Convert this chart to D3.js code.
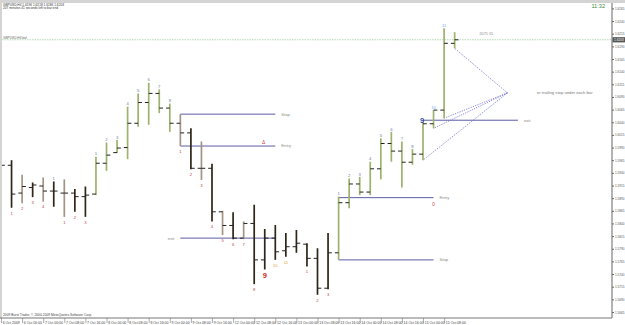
<!DOCTYPE html>
<html><head><meta charset="utf-8">
<script src="https://cdn.jsdelivr.net/npm/d3@7"></script>
<style>body{margin:0;background:#fff}svg{display:block;font-family:Arial,"Liberation Sans",sans-serif}</style>
</head><body><svg id="c" width="625" height="325"></svg>
<script>
// ---- data (GBPUSD H4) ----
const opens  = [1.5946,1.5955,1.5900,1.5911,1.5914,1.5904,1.5900,1.5900,1.5893,1.5898,1.5959,1.5980,1.5990,1.6038,1.6079,1.6097,1.6068,1.6038,1.6019,1.5949,1.5949,1.5863,1.5836,1.5811,1.5840,1.5768,1.5811,1.5786,1.5794,1.5799,1.5771,1.5712,1.5782,1.5881,1.5918,1.5902,1.5948,1.5998,1.5983,1.5961,1.5977,1.6037,1.6064,1.6196];
const highs  = [1.6048,1.5965,1.5936,1.5921,1.5931,1.5923,1.5927,1.5908,1.5913,1.5972,1.6000,1.6005,1.6071,1.6097,1.6118,1.6105,1.6077,1.6056,1.6028,1.6002,1.5958,1.5865,1.5862,1.5844,1.5877,1.5829,1.5837,1.5821,1.5827,1.5801,1.5791,1.5821,1.5893,1.5929,1.5932,1.5962,1.6008,1.6021,1.6002,1.5987,1.6041,1.6064,1.6226,1.6218];
const lows   = [1.5932,1.5871,1.5880,1.5892,1.5883,1.5873,1.5853,1.5863,1.5853,1.5896,1.5944,1.5979,1.5967,1.6031,1.6035,1.6058,1.6021,1.5993,1.5947,1.5926,1.5844,1.5817,1.5809,1.5809,1.5720,1.5749,1.5768,1.5774,1.5782,1.5755,1.5699,1.5710,1.5768,1.5870,1.5896,1.5896,1.5927,1.5962,1.5911,1.5956,1.5965,1.6028,1.6048,1.6186];
const closes = [1.5955,1.5898,1.5913,1.5916,1.5904,1.5904,1.5900,1.5893,1.5896,1.5959,1.5975,1.5989,1.6038,1.6079,1.6097,1.6068,1.6038,1.6019,1.5949,1.5949,1.5863,1.5836,1.5811,1.5840,1.5768,1.5811,1.5784,1.5794,1.5801,1.5771,1.5712,1.5782,1.5881,1.5918,1.5902,1.5948,1.5998,1.5983,1.5961,1.5977,1.6037,1.6064,1.6196,1.6203];
const barKinds = ["g","d","m","d","m","d","m","d","d","g","g","g","g","g","g","g","g","m","d","m","d","m","d","m","d","d","d","d","d","d","d","d","g","g","g","g","g","g","g","g","g","g","g","g"];
const counts   = ["1","1","2","3","4","1","1","2","3","1","2","3","4","5","6","7","8","1","2","3","4","5","6","7","8","9","10","11","","1","2","3","1","2","3","4","5","6","7","8","9","10","11",""];
const countSide= ["a","b","b","b","b","a","b","b","b","a","a","a","a","a","a","a","a","b","b","b","b","b","b","b","b","b","b","b","","b","b","b","a","a","a","a","a","a","a","a","a","a","a",""];
const countKind= ["s","r","r","r","r","s","r","r","r","s","s","s","s","s","s","s","s","r","r","r","r","r","r","r","r","R","o","o","","r","r","r","s","s","s","s","s","s","s","s","B","c","c",""];
const priceTicks = [1.6265,1.6240,1.6215,1.6190,1.6165,1.6140,1.6115,1.6090,1.6065,1.6040,1.6015,1.5990,1.5965,1.5940,1.5915,1.5890,1.5865,1.5840,1.5815,1.5790,1.5765,1.5740,1.5715,1.5690,1.5665];
const timeTickBars = [0,2,4,6,8,10,12,14,16,18,20,22,24,26,28,30,32,34,36,38,40,42];
const timeLabels = ["6 Oct 2009","6 Oct 16:00","7 Oct 00:00","7 Oct 08:00","7 Oct 16:00","8 Oct 00:00","8 Oct 08:00","8 Oct 16:00","9 Oct 00:00","9 Oct 08:00","9 Oct 16:00","12 Oct 00:00","12 Oct 08:00","12 Oct 16:00","13 Oct 00:00","13 Oct 08:00","13 Oct 16:00","14 Oct 00:00","14 Oct 08:00","14 Oct 16:00","15 Oct 00:00","15 Oct 08:00"];
// trade levels
const levelStart = [17,17,17,32,32,40];
const levelEnd   = [26,26,26,41,41,49];
const levelPrice = [1.6056,1.5993,1.5811,1.5891,1.5768,1.6044];
const levelText  = ["Stop","Entry","exit","Entry","Stop","exit"];
const levelSide  = ["r","r","l","r","r","r"];
const trailApexBar = 48, trailApexPrice = 1.6098;
const trailBars = [40,41,42,43];
const currentPrice = 1.6203;

// ---- drawing ----
const svg = d3.select("#c");
const L=2,T=3,R=612,B=318;
const x = d3.scaleLinear().domain([0,58]).range([1,612.9]);
const y = d3.scaleLinear().domain([1.6215,1.5665]).range([33.7,312]);
const colBar = {g:"#9db26c", d:"#2e2616", m:"#a39585"};
const colCount = {r:"#c0403f", s:"#6a78a8", o:"#e0a040", R:"#c82828", B:"#3048a0", c:"#6cb6d6"};

svg.append("rect").attr("width",625).attr("height",325).attr("fill","#fff");
svg.append("rect").attr("x",0).attr("y",0).attr("width",625).attr("height",T).attr("fill","#d4d4d4");
svg.append("rect").attr("x",0).attr("y",0).attr("width",L).attr("height",B).attr("fill","#d4d4d4");

svg.append("clipPath").attr("id","pc").append("rect").attr("x",L).attr("y",T).attr("width",R-L).attr("height",B-T);
const g = svg.append("g").attr("clip-path","url(#pc)");

// bid line
g.append("line").attr("x1",L).attr("x2",R).attr("y1",y(currentPrice)).attr("y2",y(currentPrice))
  .attr("stroke","#b4dab4").attr("stroke-width",1).attr("stroke-dasharray","1.5,1");
g.append("text").attr("x",3).attr("y",y(currentPrice)-0.8).attr("font-size",3.2).attr("fill","#666").text("GBPUSD,H4 bid");

// trade levels
levelPrice.forEach((p,i)=>{
  const x1=x(levelStart[i]), x2=x(levelEnd[i]);
  g.append("line").attr("x1",x1).attr("x2",x2).attr("y1",y(p)).attr("y2",y(p))
    .attr("stroke","#5c5ca6").attr("stroke-width",1);
  const t=g.append("text").attr("y",y(p)+1.4).attr("font-size",4.2).attr("fill","#8a8a8a").text(levelText[i]);
  if(levelSide[i]==="r") t.attr("x",x2+6); else t.attr("x",x1-6).attr("text-anchor","end");
});
// trailing stop lines
trailBars.forEach(b=>{
  g.append("line").attr("x1",x(trailApexBar)).attr("y1",y(trailApexPrice))
   .attr("x2",x(b)).attr("y2",y(lows[b]))
   .attr("stroke","#6a6ad0").attr("stroke-width",0.8).attr("stroke-dasharray","1.2,1.2");
});
g.append("text").attr("x",x(50.8)).attr("y",y(trailApexPrice)+1.2).attr("font-size",4.2).attr("fill","#777").text("er trailing stop under each bar");
g.append("text").attr("x",x(46)).attr("y",y(1.6212)).attr("font-size",3.8).attr("fill","#888").attr("text-anchor","middle").text("2071:15");
g.append("text").attr("x",x(24.9)).attr("y",y(1.5998)).attr("font-size",5).attr("fill","#d04040").attr("text-anchor","middle").text("Δ");
g.append("text").attr("x",x(41)).attr("y",y(1.5875)).attr("font-size",4.5).attr("fill","#d04040").attr("text-anchor","middle").text("0");

// bars
const bars = g.selectAll("g.bar").data(d3.range(opens.length)).join("g");
bars.append("line").attr("x1",i=>x(i)).attr("x2",i=>x(i)).attr("y1",i=>y(highs[i])).attr("y2",i=>y(lows[i]))
  .attr("stroke",i=>colBar[barKinds[i]]).attr("stroke-width",1.7);
bars.append("line").attr("x1",i=>x(i)-3.8).attr("x2",i=>x(i)).attr("y1",i=>y(opens[i])).attr("y2",i=>y(opens[i]))
  .attr("stroke","#222").attr("stroke-width",1);
bars.append("line").attr("x1",i=>x(i)).attr("x2",i=>x(i)+3.8).attr("y1",i=>y(closes[i])).attr("y2",i=>y(closes[i]))
  .attr("stroke","#222").attr("stroke-width",1);

// count labels
bars.filter(i=>counts[i]!=="").append("text")
  .attr("x",i=>countKind[i]==="B"?x(i)-1:x(i))
  .attr("y",i=>{
    const k=countKind[i];
    if(k==="R") return y(lows[i])+9;
    if(k==="B") return y(highs[i])+1.5;
    return countSide[i]==="a"? y(highs[i])-1.3 : y(lows[i])+6.8;
  })
  .attr("text-anchor","middle")
  .attr("font-size",i=>(countKind[i]==="R"||countKind[i]==="B")?7.5:4.2)
  .attr("font-weight",i=>(countKind[i]==="R"||countKind[i]==="B")?"bold":"normal")
  .attr("fill",i=>colCount[countKind[i]])
  .text(i=>counts[i]);

// price axis
const ya = d3.axisRight(y).tickValues(priceTicks).tickSize(2).tickPadding(1).tickFormat(d3.format(".4f"));
const yag = svg.append("g").attr("transform",`translate(${R},0)`).call(ya);
yag.select(".domain").attr("d",`M0,${T}V${B}`).attr("stroke","#666");
yag.selectAll("line").attr("stroke","#666");
yag.selectAll("text").attr("font-size",3.1).attr("fill","#555").attr("font-family","Arial");
// current price box
svg.append("rect").attr("x",R+0.5).attr("y",y(currentPrice)-2.6).attr("width",12.5).attr("height",5.2).attr("fill","#555");
svg.append("text").attr("x",R+2).attr("y",y(currentPrice)+1.1).attr("font-size",3.2).attr("fill","#fff").text(d3.format(".4f")(currentPrice));

// time axis
const xa = d3.axisBottom(x).tickValues(timeTickBars).tickSize(5).tickPadding(-3.6)
  .tickFormat((d,i)=>timeLabels[i]);
const xag = svg.append("g").attr("transform",`translate(0,${B})`).call(xa);
xag.select(".domain").attr("d",`M0,0H${R}`).attr("stroke","#777");
xag.selectAll("line").attr("stroke","#777").attr("stroke-width",0.6);
xag.selectAll("text").attr("text-anchor","start").attr("dx",1.2).attr("dy",0).attr("y",5.8)
  .attr("font-size",3.5).attr("fill","#444").attr("font-family","Arial");

// header / footer texts
svg.append("text").attr("x",3).attr("y",5.6).attr("font-size",3.2).attr("fill","#333")
  .text(`GBPUSD,H4  ${opens[43].toFixed(4)} ${highs[43].toFixed(4)} ${lows[43].toFixed(4)} ${closes[43].toFixed(4)}`);
svg.append("text").attr("x",3).attr("y",9).attr("font-size",3.2).attr("fill","#333")
  .text("207 minutes 41 seconds left to bar end");
svg.append("text").attr("x",605).attr("y",8.2).attr("text-anchor","end").attr("font-size",5.6).attr("fill","#3c8c3c").text("11:32");
svg.append("text").attr("x",3).attr("y",316.3).attr("font-size",3.3).attr("fill","#444")
  .text("2009 Burst Trader, © 2000-2009 MetaQuotes Software Corp.");
</script></body></html>
